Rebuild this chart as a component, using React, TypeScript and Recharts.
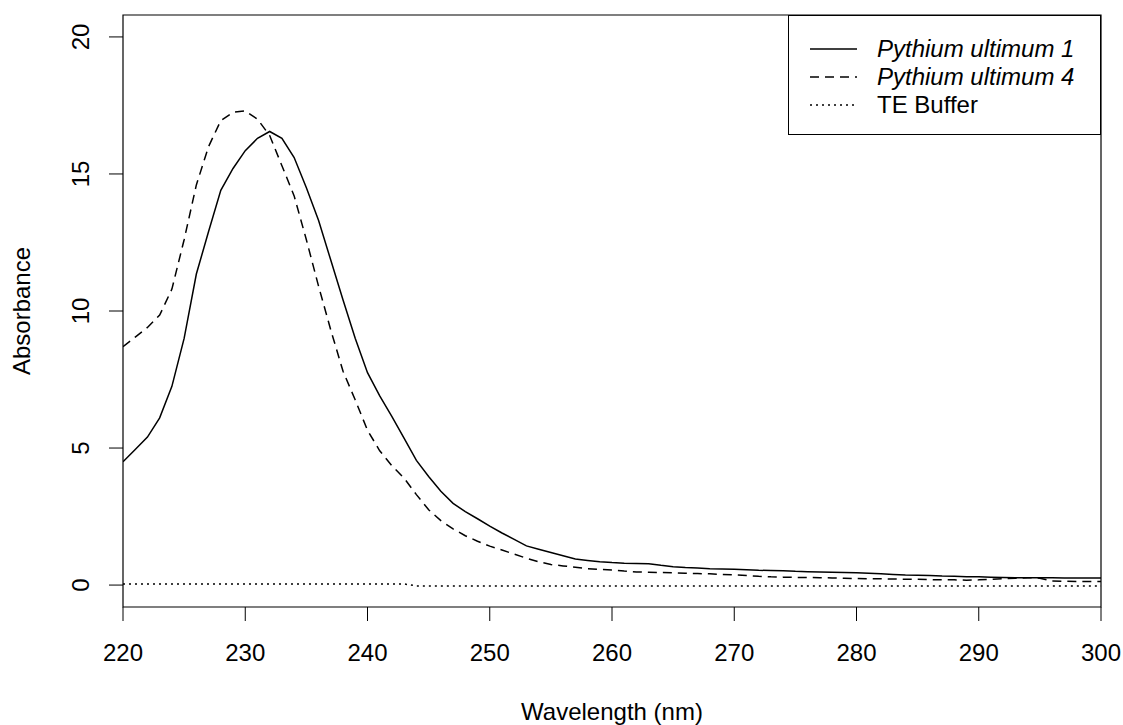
import { LineChart, Line, XAxis, YAxis, ReferenceArea, Label } from 'recharts'

document.body.style.margin = '0'

const FONT = '"Liberation Sans", Arial, sans-serif'

const wavelength = [
  220, 221, 222, 223, 224, 225, 226, 227, 228, 229,
  230, 231, 232, 233, 234, 235, 236, 237, 238, 239,
  240, 241, 242, 243, 244, 245, 246, 247, 248, 249,
  250, 251, 252, 253, 254, 255, 256, 257, 258, 259,
  260, 261, 262, 263, 264, 265, 266, 267, 268, 269,
  270, 271, 272, 273, 274, 275, 276, 277, 278, 279,
  280, 281, 282, 283, 284, 285, 286, 287, 288, 289,
  290, 291, 292, 293, 294, 295, 296, 297, 298, 299,
  300,
]

const ultimum1 = [
  4.5, 4.95, 5.4, 6.1, 7.25, 9.0, 11.35, 12.9, 14.4, 15.2,
  15.85, 16.3, 16.55, 16.3, 15.6, 14.5, 13.3, 11.85, 10.4, 9.0,
  7.75, 6.9, 6.15, 5.35, 4.55, 3.96, 3.42, 2.98, 2.68, 2.42,
  2.15, 1.9, 1.67, 1.43, 1.31, 1.19, 1.07, 0.95, 0.9, 0.85,
  0.82, 0.8, 0.79, 0.78, 0.72, 0.67, 0.64, 0.62, 0.6, 0.59,
  0.58, 0.56, 0.54, 0.53, 0.52, 0.5, 0.49, 0.48, 0.47, 0.46,
  0.45, 0.43, 0.41, 0.39, 0.37, 0.36, 0.35, 0.33, 0.32, 0.3,
  0.3, 0.29, 0.28, 0.27, 0.27, 0.27, 0.27, 0.26, 0.26, 0.26,
  0.26,
]

const ultimum4 = [
  8.7, 9.05, 9.4, 9.85, 10.8, 12.6, 14.6, 16.0, 16.95, 17.25,
  17.3, 17.0, 16.4, 15.3, 14.2, 12.6, 10.9, 9.3, 7.8, 6.75,
  5.65, 4.9, 4.35, 3.9, 3.3, 2.75, 2.35, 2.05, 1.8, 1.6,
  1.42, 1.28, 1.13, 0.98, 0.85, 0.75, 0.7, 0.65, 0.6, 0.57,
  0.55, 0.51, 0.48, 0.47, 0.46, 0.45, 0.43, 0.42, 0.41, 0.39,
  0.37, 0.35, 0.32, 0.3, 0.29, 0.28, 0.28, 0.27, 0.26, 0.25,
  0.24, 0.23, 0.23, 0.22, 0.21, 0.21, 0.2, 0.19, 0.19, 0.18,
  0.19, 0.21, 0.23, 0.25, 0.27, 0.25, 0.15, 0.14, 0.13, 0.13,
  0.13,
]

const teBuffer = [
  0.04, 0.04, 0.04, 0.04, 0.04, 0.04, 0.04, 0.04, 0.04, 0.04,
  0.04, 0.04, 0.04, 0.04, 0.04, 0.04, 0.04, 0.04, 0.04, 0.04,
  0.04, 0.04, 0.04, 0.04, -0.03, -0.03, -0.03, -0.03, -0.03, -0.03,
  -0.03, -0.03, -0.03, -0.03, -0.03, -0.03, -0.03, -0.03, -0.03, -0.03,
  -0.03, -0.03, -0.03, -0.03, -0.03, -0.03, -0.03, -0.03, -0.03, -0.03,
  -0.03, -0.03, -0.03, -0.03, -0.03, -0.03, -0.03, -0.03, -0.03, -0.03,
  -0.03, -0.03, -0.03, -0.03, -0.03, -0.03, -0.03, -0.03, -0.03, -0.03,
  -0.03, -0.03, -0.03, -0.03, -0.03, -0.03, -0.03, -0.03, -0.03, -0.03,
  -0.03,
]

const xTicks = [220, 230, 240, 250, 260, 270, 280, 290, 300]
const yTicks = [0, 5, 10, 15, 20]

const series = [
  { key: 'p1', name: 'Pythium ultimum 1', italic: true, dash: undefined },
  { key: 'p4', name: 'Pythium ultimum 4', italic: true, dash: '9 6' },
  { key: 'te', name: 'TE Buffer', italic: false, dash: '2 4' },
]

const data = wavelength.map((w, i) => ({
  w,
  p1: ultimum1[i],
  p4: ultimum4[i],
  te: teBuffer[i],
}))

const XTick = (props: any) => (
  <text x={props.x} y={props.y + 38} textAnchor="middle" fontSize={24} fontFamily={FONT} fill="#000">
    {props.payload.value}
  </text>
)

const YTick = (props: any) => (
  <text
    x={props.x - 18}
    y={props.y}
    textAnchor="middle"
    fontSize={24}
    fontFamily={FONT}
    fill="#000"
    transform={`rotate(-90 ${props.x - 18} ${props.y})`}
  >
    {props.payload.value}
  </text>
)

function LegendBox() {
  return (
    <div
      style={{
        position: 'absolute',
        left: 788,
        top: 15,
        width: 313,
        height: 120,
        boxSizing: 'border-box',
        border: '1px solid #000',
        background: '#fff',
        fontFamily: FONT,
        fontSize: 24,
      }}
    >
      {series.map((s, i) => (
        <div key={s.key} style={{ position: 'absolute', left: 0, top: 19 + i * 28, height: 28, display: 'flex', alignItems: 'center' }}>
          <svg width={80} height={28} style={{ display: 'block' }}>
            <line x1={21} x2={68} y1={14} y2={14} stroke="#000" strokeWidth={1.5} strokeDasharray={s.dash} />
          </svg>
          <span style={{ marginLeft: 8, fontStyle: s.italic ? 'italic' : 'normal', whiteSpace: 'nowrap', lineHeight: '28px' }}>
            {s.name}
          </span>
        </div>
      ))}
    </div>
  )
}

export default function App() {
  return (
    <div style={{ position: 'relative', width: 1123, height: 725, background: '#fff' }}>
      <LineChart width={1123} height={725} data={data} margin={{ top: 15, right: 22, bottom: 58, left: 63 }}>
        <XAxis
          dataKey="w"
          type="number"
          domain={[220, 300]}
          ticks={xTicks}
          allowDataOverflow
          height={60}
          axisLine={false}
          tickLine={{ stroke: '#000' }}
          tickSize={14}
          tick={XTick}
          interval={0}
        >
          <Label
            content={(p: any) => (
              <text
                x={p.viewBox.x + p.viewBox.width / 2}
                y={p.viewBox.y + 113}
                textAnchor="middle"
                fontSize={24}
                fontFamily={FONT}
                fill="#000"
              >
                Wavelength (nm)
              </text>
            )}
          />
        </XAxis>
        <YAxis
          type="number"
          domain={[-0.8, 20.8]}
          ticks={yTicks}
          allowDataOverflow
          width={60}
          axisLine={false}
          tickLine={{ stroke: '#000' }}
          tickSize={14}
          tick={YTick}
          interval={0}
        >
          <Label
            content={(p: any) => {
              const x = p.viewBox.x - 33
              const y = p.viewBox.y + p.viewBox.height / 2
              return (
                <text x={x} y={y} textAnchor="middle" fontSize={24} fontFamily={FONT} fill="#000" transform={`rotate(-90 ${x} ${y})`}>
                  Absorbance
                </text>
              )
            }}
          />
        </YAxis>
        {series.map((s) => (
          <Line
            key={s.key}
            dataKey={s.key}
            name={s.name}
            type="linear"
            stroke="#000"
            strokeWidth={1.5}
            strokeDasharray={s.dash}
            dot={false}
            activeDot={false}
            isAnimationActive={false}
          />
        ))}
        <ReferenceArea x1={220} x2={300} y1={-0.8} y2={20.8} fill="none" stroke="#000" strokeWidth={1.2} fillOpacity={0} />
      </LineChart>
      <LegendBox />
    </div>
  )
}
